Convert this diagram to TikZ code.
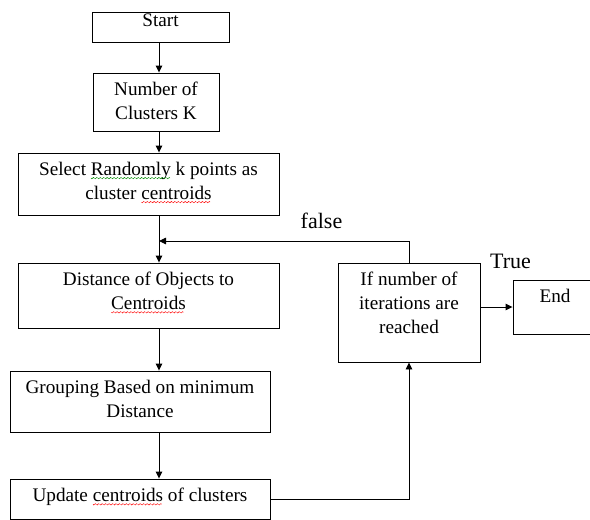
\documentclass[tikz,border=0pt]{standalone}
\usepackage{fontspec}
\setmainfont{Liberation Serif}
\usetikzlibrary{arrows.meta,calc}

% small zigzag piece, repeated under a word
\newcommand\wavebit{\begin{pgfpicture}\pgfsetbaseline{0pt}\pgfsetlinewidth{0.45pt}%
  \pgfpathmoveto{\pgfpoint{0pt}{-3pt}}\pgfpathlineto{\pgfpoint{0.75pt}{-3.7pt}}%
  \pgfpathlineto{\pgfpoint{2.25pt}{-2.3pt}}\pgfpathlineto{\pgfpoint{3pt}{-3pt}}%
  \pgfusepath{stroke}\end{pgfpicture}}
\newcommand\spellwave[2]{\setbox0\hbox{#2}\rlap{\copy0}\hbox to \wd0{\leaders\hbox{\textcolor{#1}{\wavebit}}\hfill}}
\newcommand\redwave[1]{\spellwave{red}{#1}}
\newcommand\greenwave[1]{\spellwave{green!55!black}{#1}}

\tikzset{
  box/.style={draw, line width=0.9pt, inner sep=0pt, minimum width=#1},
  boxtext/.style={anchor=north, inner sep=0pt, align=center,
    yshift=-9pt, font=\fontsize{19.2}{24}\selectfont},
  flow/.style={color=black, line width=0.9pt, -{Triangle[length=7pt,width=6.5pt]}},
  tag/.style={anchor=base, inner sep=0pt, font=\fontsize{22}{26}\selectfont},
}

\begin{document}
\begin{tikzpicture}[x=1pt, y=-1pt]
    \useasboundingbox (0,0) rectangle (590,520);
    \node[box=137pt, minimum height=30pt, label={[boxtext, yshift=7pt]north:{Start}}] (start) at (160.5, 27) {};
    \node[box=126pt, minimum height=58pt, label={[boxtext]north:{Number of\\Clusters K}}] (num) at (156, 102) {};
    \node[box=261pt, minimum height=62pt, label={[boxtext]north:{Select \greenwave{Randomly} k points as\\cluster \redwave{centroids}}}] (sel) at (148.5, 184) {};
    \node[box=261pt, minimum height=65pt, label={[boxtext]north:{Distance of Objects to\\\redwave{Centroids}}}] (dist) at (148.5, 295.5) {};
    \node[box=260pt, minimum height=61pt, label={[boxtext]north:{Grouping Based on minimum\\Distance}}] (grp) at (140, 401.5) {};
    \node[box=260pt, minimum height=40pt, label={[boxtext]north:{Update \redwave{centroids} of clusters}}] (upd) at (140, 499) {};
    \node[box=142pt, minimum height=99pt, label={[boxtext]north:{If number of\\iterations are\\reached}}] (if) at (409, 312.5) {};
    \node[box=84pt, minimum height=54pt, label={[boxtext]north:{End}}] (end) at (555, 307) {};
    \node[tag] (false) at (321.5, 228) {false};
    \node[tag] (true) at (510.5, 268) {True};
    \coordinate (spine) at (159, 0);
    \coordinate (join) at (159, 241);
    \draw[flow] (start.south -| spine) -- (num.north -| spine);
    \draw[flow] (num.south -| spine) -- (sel.north -| spine);
    \draw[flow] (sel.south -| spine) -- (dist.north -| spine);
    \draw[flow] (dist.south -| spine) -- (grp.north -| spine);
    \draw[flow] (grp.south -| spine) -- (upd.north -| spine);
    \draw[flow] (if.north) |- (join);
    \draw[flow] (upd.east) -| (if.south);
    \draw[flow] (if.east |- end.west) -- (end.west);
\end{tikzpicture}
\end{document}
